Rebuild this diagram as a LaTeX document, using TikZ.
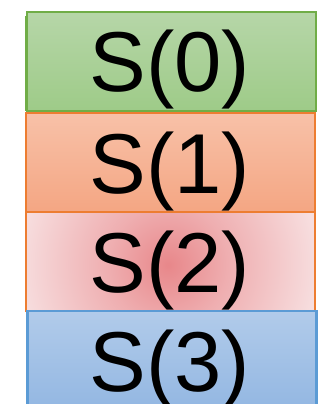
\documentclass[tikz,border=0pt]{standalone}
\usepackage{fontspec}
\setmainfont{Liberation Sans}
\usetikzlibrary{calc}
\definecolor{gB}{HTML}{70AD47}
\definecolor{gT}{HTML}{B6D6A8}
\definecolor{gBo}{HTML}{9ECB88}
\definecolor{oB}{HTML}{ED7D31}
\definecolor{oT}{HTML}{F8C1A8}
\definecolor{oBo}{HTML}{F4A683}
\definecolor{pC}{HTML}{E8878A}
\definecolor{pO}{HTML}{F7DEDF}
\definecolor{bB}{HTML}{5B9BD5}
\definecolor{bT}{HTML}{B1CBEA}
\definecolor{bBo}{HTML}{93B7E2}
\pgfdeclareradialshading{pinkrad}{\pgfpoint{0bp}{0bp}}{color(0bp)=(pC); color(5bp)=(pC!55!pO); color(12.5bp)=(pO); color(50bp)=(pO)}
\tikzset{
  box/.style={rectangle, inner sep=0pt, outer sep=0pt, minimum width=289pt, minimum height=99pt},
  lbl/.style={anchor=base, inner sep=0pt, font=\fontsize{85pt}{100pt}\selectfont}
}
\begin{document}
\begin{tikzpicture}[x=1pt,y=-1pt]
\useasboundingbox (0,0) rectangle (329,404);
\clip (0,0) rectangle (329,404);
% shadow edge of the green box
\draw[gB, line width=2pt] (25.5,16) -- (25.5,111);
\node[box, draw=gB, line width=2pt, top color=gT, bottom color=gBo] (g) at (171.5,61.5) {};
\node[box, draw=oB, line width=2pt, top color=oT, bottom color=oBo] (o) at (170.5,162.5) {};
\begin{scope}
  \clip (26,212) rectangle (315,311);
  \shade[shading=pinkrad] (168,265) circle (300);
\end{scope}
\node[box, draw=oB, line width=2pt] (p) at (170.5,261.5) {};
\node[box, draw=bB, line width=2.5pt, top color=bT, bottom color=bBo] (b) at (172,360.5) {};
\node[lbl] (t0) at ($(g.center)+(-1.5,30.5)$) {S(0)};
\node[lbl] (t1) at ($(o.center)+(-0.5,30.5)$) {S(1)};
\node[lbl] (t2) at ($(p.center)+(-0.5,30.5)$) {S(2)};
\node[lbl] (t3) at ($(b.center)+(-2,30.5)$) {S(3)};
\end{tikzpicture}
\end{document}
